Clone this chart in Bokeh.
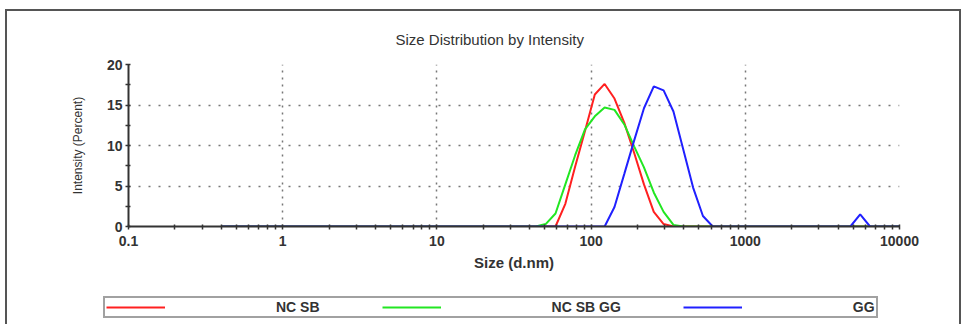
from bokeh.plotting import figure
from bokeh.layouts import column
from bokeh.models import (Range1d, FixedTicker, CustomJSTickFormatter, Legend,
                          LegendItem, InlineStyleSheet)
from bokeh.embed import file_html
from bokeh.resources import INLINE

# DLS size bins (d.nm)
sizes = [
    0.4, 0.4632, 0.5365, 0.6213, 0.7195, 0.8332, 0.9649, 1.117, 1.294, 1.499,
    1.736, 2.01, 2.328, 2.696, 3.122, 3.615, 4.187, 4.849, 5.615, 6.503,
    7.531, 8.721, 10.1, 11.7, 13.54, 15.69, 18.17, 21.04, 24.36, 28.21,
    32.67, 37.84, 43.82, 50.75, 58.77, 68.06, 78.82, 91.28, 105.7, 122.4,
    141.8, 164.2, 190.1, 220.2, 255.0, 295.3, 342.0, 396.1, 458.7, 531.2,
    615.1, 712.4, 825.0, 955.4, 1106, 1281, 1484, 1718, 1990, 2305,
    2669, 3091, 3580, 4145, 4801, 5560, 6439, 7456, 8635, 10000,
]

nc_sb = [
    0, 0, 0, 0, 0, 0, 0, 0, 0, 0,
    0, 0, 0, 0, 0, 0, 0, 0, 0, 0,
    0, 0, 0, 0, 0, 0, 0, 0, 0, 0,
    0, 0, 0, 0, 0, 2.8, 7.4, 11.8, 16.3, 17.6,
    15.8, 12.8, 9.1, 5.2, 1.8, 0.3, 0, 0, 0, 0,
    0, 0, 0, 0, 0, 0, 0, 0, 0, 0,
    0, 0, 0, 0, 0, 0, 0, 0, 0, 0,
]

nc_sb_gg = [
    0, 0, 0, 0, 0, 0, 0, 0, 0, 0,
    0, 0, 0, 0, 0, 0, 0, 0, 0, 0,
    0, 0, 0, 0, 0, 0, 0, 0, 0, 0,
    0, 0, 0, 0.3, 1.6, 5.2, 8.8, 12.0, 13.6, 14.7,
    14.4, 12.6, 9.9, 7.3, 4.2, 1.8, 0.2, 0, 0, 0,
    0, 0, 0, 0, 0, 0, 0, 0, 0, 0,
    0, 0, 0, 0, 0, 0, 0, 0, 0, 0,
]

gg = [
    0, 0, 0, 0, 0, 0, 0, 0, 0, 0,
    0, 0, 0, 0, 0, 0, 0, 0, 0, 0,
    0, 0, 0, 0, 0, 0, 0, 0, 0, 0,
    0, 0, 0, 0, 0, 0, 0, 0, 0, 0,
    2.4, 6.5, 10.6, 14.6, 17.3, 16.8, 14.2, 9.5, 4.8, 1.3,
    0, 0, 0, 0, 0, 0, 0, 0, 0, 0,
    0, 0, 0, 0, 0, 1.5, 0, 0, 0, 0,
]

series_names = ["NC SB", "NC SB GG", "GG"]
series_values = [nc_sb, nc_sb_gg, gg]
series_colors = ["#ff2020", "#22e622", "#2020ff"]

x_major = [0.1, 1, 10, 100, 1000, 10000]
y_major = [0, 5, 10, 15, 20]

FONT = "Liberation Sans"
TXT = "#333333"

frame_css = InlineStyleSheet(css="""
:host::after {
  content: "";
  position: absolute;
  left: 5px; top: 9px; width: 952px; height: 340px;
  border: 2px solid #555555;
  pointer-events: none;
}
""")

p = figure(width=963, height=290, x_axis_type="log",
           x_range=Range1d(0.1, 10000), y_range=Range1d(0, 20),
           output_backend="svg", toolbar_location=None,
           min_border_left=128, min_border_right=64,
           min_border_top=64, min_border_bottom=64)
p.outline_line_color = None
p.background_fill_color = "white"
p.border_fill_color = "white"

for name, vals, col in zip(series_names, series_values, series_colors):
    p.line(sizes, vals, line_color=col, line_width=2)

# title
p.title.text = "Size Distribution by Intensity"
p.title.align = "left"
p.title.vertical_align = "top"
p.title.offset = 267
p.title.standoff = 29
p.title.text_font = FONT
p.title.text_font_size = "15px"
p.title.text_font_style = "normal"
p.title.text_color = TXT

# axes
p.xaxis.ticker = FixedTicker(ticks=x_major,
                             minor_ticks=[m * 10 ** e for e in range(-1, 4) for m in range(2, 10)])
p.xaxis.formatter = CustomJSTickFormatter(code="return tick.toString();")
p.yaxis.ticker = FixedTicker(ticks=y_major, minor_ticks=[2.5, 7.5, 12.5, 17.5])

for ax in (p.xaxis, p.yaxis):
    ax.axis_line_color = "#333333"
    ax.axis_line_width = 2
    ax.major_tick_line_color = "#333333"
    ax.minor_tick_line_color = "#333333"
    ax.major_tick_line_width = 1.5
    ax.minor_tick_line_width = 1.5
    ax.major_tick_in = 2
    ax.major_tick_out = 3
    ax.minor_tick_in = 2
    ax.minor_tick_out = 3
    ax.major_label_text_font = FONT
    ax.major_label_text_font_size = "14px"
    ax.major_label_text_font_style = "bold"
    ax.major_label_text_color = TXT
    ax.axis_label_text_font = FONT
    ax.axis_label_text_color = TXT

p.xaxis.axis_label = "Size (d.nm)"
p.xaxis.axis_label_text_font_size = "15px"
p.xaxis.axis_label_text_font_style = "bold"
p.xaxis.major_label_standoff = 6
p.xaxis.axis_label_standoff = 5

p.yaxis.axis_label = "Intensity (Percent)"
p.yaxis.axis_label_text_font_size = "12px"
p.yaxis.axis_label_text_font_style = "normal"
p.yaxis.major_label_standoff = 3
p.yaxis.axis_label_standoff = 19

p.xgrid.grid_line_color = "#777777"
p.xgrid.grid_line_dash = "2 5"
p.xgrid.grid_line_width = 1.5
p.ygrid.grid_line_color = "#777777"
p.ygrid.grid_line_dash = "2 8"
p.ygrid.grid_line_width = 1.5

# legend strip below the plot (own frame spanning the whole strip)
lg = figure(width=963, height=34, x_range=Range1d(0, 1), y_range=Range1d(0, 1),
            output_backend="svg", toolbar_location=None, min_border=0)
lg.frame_align = False
lg.axis.visible = False
lg.grid.visible = False
lg.outline_line_color = None
lg.background_fill_color = "white"
lg.border_fill_color = "white"
key_renderers = [lg.line(x=[float("nan")], y=[float("nan")], line_color=c, line_width=2)
                 for c in series_colors]

legend = Legend(items=[LegendItem(label=n, renderers=[r]) for n, r in zip(series_names, key_renderers)],
                orientation="horizontal", location=(103, 6),
                glyph_width=59, glyph_height=14, label_standoff=111, spacing=62,
                label_height=14, padding=1, margin=0,
                label_text_font=FONT, label_text_font_size="14px",
                label_text_font_style="bold", label_text_color=TXT,
                border_line_color="#444444", border_line_width=2,
                background_fill_alpha=0)
lg.add_layout(legend)

layout = column(p, lg, spacing=0, stylesheets=[frame_css])

open("out.html", "w").write(file_html(layout, INLINE))
